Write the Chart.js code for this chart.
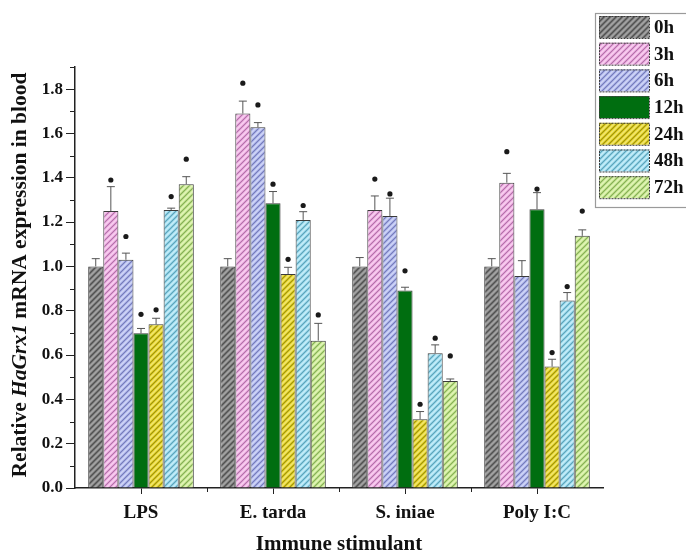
<!DOCTYPE html>
<html>
<head>
<meta charset="utf-8">
<script src="https://cdn.jsdelivr.net/npm/chart.js@4/dist/chart.umd.min.js"></script>
<style>
    html, body { margin: 0; padding: 0; background: #fff; }
    canvas { display: block; }
</style>
</head>
<body>
<canvas id="grxChart" width="686" height="559"></canvas>
<script>
// Categories and time points
const stimulants = ['LPS', 'E. tarda', 'S. iniae', 'Poly I:C'];
const timePoints = ['0h', '3h', '6h', '12h', '24h', '48h', '72h'];

// Mean relative expression per time point (LPS, E. tarda, S. iniae, Poly I:C)
const mean0h  = [1.00, 1.00, 1.00, 1.00];
const mean3h  = [1.25, 1.69, 1.255, 1.378];
const mean6h  = [1.03, 1.628, 1.228, 0.957];
const mean12h = [0.698, 1.285, 0.891, 1.258];
const mean24h = [0.739, 0.966, 0.31, 0.548];
const mean48h = [1.255, 1.21, 0.608, 0.846];
const mean72h = [1.371, 0.665, 0.483, 1.138];

// Error bar sizes (upper only)
const err0h  = [0.035, 0.035, 0.04, 0.035];
const err3h  = [0.11, 0.056, 0.063, 0.042];
const err6h  = [0.03, 0.021, 0.08, 0.069];
const err12h = [0.022, 0.053, 0.015, 0.075];
const err24h = [0.027, 0.03, 0.035, 0.033];
const err48h = [0.008, 0.037, 0.038, 0.036];
const err72h = [0.034, 0.078, 0.009, 0.027];

// Where the significance marks sit (null = no mark)
const star0h  = [null, null, null, null];
const star3h  = [1.39, 1.827, 1.394, 1.518];
const star6h  = [1.135, 1.729, 1.327, null];
const star12h = [0.784, 1.371, 0.98, 1.349];
const star24h = [0.804, 1.032, 0.378, 0.611];
const star48h = [1.315, 1.275, 0.676, 0.909];
const star72h = [1.484, 0.781, 0.596, 1.25];

// Axis ticks
const yTicks = [0, 0.2, 0.4, 0.6, 0.8, 1.0, 1.2, 1.4, 1.6, 1.8];
const yMinorTicks = [0.1, 0.3, 0.5, 0.7, 0.9, 1.1, 1.3, 1.5, 1.7, 1.9];

const means = [mean0h, mean3h, mean6h, mean12h, mean24h, mean48h, mean72h];
const errors = [err0h, err3h, err6h, err12h, err24h, err48h, err72h];
const stars = [star0h, star3h, star6h, star12h, star24h, star48h, star72h];

// base, light stripe, dark stripe, solid?
const seriesStyle = [
    ['#6f6f6f', '#a4a4a4', '#4a4a4a', false],
    ['#e49ad6', '#f8d0f0', '#a0709a', false],
    ['#9ea6e4', '#d0d6f6', '#6e74a8', false],
    ['#006e10', '#006e10', '#006e10', true],
    ['#d6c612', '#f2e670', '#8c8020', false],
    ['#86cce4', '#c6eef8', '#5a98a8', false],
    ['#b4dc7c', '#e2f4b8', '#7c9c56', false]
];

const canvas = document.getElementById('grxChart');
const mainCtx = canvas.getContext('2d');

function hatch(base, light, dark, solid) {
    const s = 6;
    const c = document.createElement('canvas');
    c.width = s;
    c.height = s;
    const g = c.getContext('2d');
    g.fillStyle = base;
    g.fillRect(0, 0, s, s);
    if (!solid) {
        g.lineCap = 'square';
        g.strokeStyle = light;
        g.lineWidth = 1.8;
        [-s, 0, s].forEach(k => {
            g.beginPath();
            g.moveTo(k, s);
            g.lineTo(k + s, 0);
            g.stroke();
        });
        g.strokeStyle = dark;
        g.lineWidth = 0.8;
        [-s, 0, s].forEach(k => {
            g.beginPath();
            g.moveTo(k + 3, s);
            g.lineTo(k + 3 + s, 0);
            g.stroke();
        });
    }
    return mainCtx.createPattern(c, 'repeat');
}

const serif = "'Liberation Serif', 'Times New Roman', serif";

// Error bars, significance marks and minor ticks
const extrasPlugin = {
    id: 'extras',
    afterDatasetsDraw(chart) {
        const ctx = chart.ctx;
        const y = chart.scales.y;
        const x = chart.scales.x;
        ctx.save();
        chart.data.datasets.forEach((ds, i) => {
            const meta = chart.getDatasetMeta(i);
            meta.data.forEach((bar, j) => {
                const top = y.getPixelForValue(means[i][j] + errors[i][j]);
                ctx.strokeStyle = '#555';
                ctx.lineWidth = 1;
                ctx.beginPath();
                ctx.moveTo(bar.x, bar.y);
                ctx.lineTo(bar.x, top);
                ctx.moveTo(bar.x - 4, top);
                ctx.lineTo(bar.x + 4, top);
                ctx.stroke();
                const sv = stars[i][j];
                if (sv !== null) {
                    ctx.fillStyle = '#1a1a1a';
                    ctx.beginPath();
                    ctx.arc(bar.x, y.getPixelForValue(sv), 2.6, 0, Math.PI * 2);
                    ctx.fill();
                }
            });
        });

        // minor ticks
        ctx.strokeStyle = '#222';
        ctx.lineWidth = 1;
        ctx.beginPath();
        yMinorTicks.forEach(v => {
            const py = Math.round(y.getPixelForValue(v)) + 0.5;
            ctx.moveTo(chart.chartArea.left - 5, py);
            ctx.lineTo(chart.chartArea.left, py);
        });
        for (let j = 0; j < stimulants.length - 1; j++) {
            const px = Math.round((x.getPixelForValue(j) + x.getPixelForValue(j + 1)) / 2) + 0.5;
            ctx.moveTo(px, chart.chartArea.bottom);
            ctx.lineTo(px, chart.chartArea.bottom + 4);
        }
        ctx.stroke();
        ctx.restore();
    },
    afterDraw(chart) {
        const ctx = chart.ctx;
        ctx.save();

        // y axis title with italic gene name
        const parts = [
            ['Relative ', 'bold'],
            ['HaGrx1', 'italic bold'],
            [' mRNA expression in blood', 'bold']
        ];
        let size = 18;
        const measure = sz => parts.reduce((w, p) => {
            ctx.font = `${p[1]} ${sz}px ${serif}`;
            return w + ctx.measureText(p[0]).width;
        }, 0);
        size = size * 405 / measure(size);
        const total = measure(size);
        ctx.translate(20, 275);
        ctx.rotate(-Math.PI / 2);
        ctx.fillStyle = '#111';
        ctx.textBaseline = 'middle';
        let cx = -total / 2;
        parts.forEach(p => {
            ctx.font = `${p[1]} ${size}px ${serif}`;
            ctx.fillText(p[0], cx, 0);
            cx += ctx.measureText(p[0]).width;
        });
        ctx.restore();

        // legend box
        ctx.save();
        const lx = 595, ly = 13, step = 26.7;
        ctx.fillStyle = '#fff';
        ctx.fillRect(lx, ly, 120, 194);
        ctx.strokeStyle = '#9a9a9a';
        ctx.lineWidth = 1.2;
        ctx.strokeRect(lx + 0.5, ly + 0.5, 120, 194);
        chart.data.datasets.forEach((ds, i) => {
            const sy = ly + 3 + i * step;
            ctx.fillStyle = ds.backgroundColor;
            ctx.fillRect(lx + 4, sy, 50, 22);
            ctx.strokeStyle = '#3a3a3a';
            ctx.lineWidth = 1;
            ctx.setLineDash([2, 1]);
            ctx.strokeRect(lx + 4.5, sy + 0.5, 50, 22);
            ctx.setLineDash([]);
            ctx.fillStyle = '#111';
            ctx.font = `bold 19px ${serif}`;
            ctx.textBaseline = 'middle';
            ctx.fillText(ds.label, lx + 59, sy + 12);
        });
        ctx.restore();
    }
};

new Chart(mainCtx, {
    type: 'bar',
    data: {
        labels: stimulants,
        datasets: timePoints.map((t, i) => ({
            label: t,
            data: means[i],
            backgroundColor: hatch(...seriesStyle[i]),
            borderColor: '#3a3a3a',
            borderWidth: 1,
            barPercentage: 1.0,
            categoryPercentage: 0.8
        }))
    },
    options: {
        responsive: false,
        animation: false,
        devicePixelRatio: 1,
        layout: { padding: { top: 67, right: 83, left: 0, bottom: 0 } },
        plugins: {
            legend: { display: false },
            tooltip: { enabled: false }
        },
        scales: {
            x: {
                grid: { display: true, drawOnChartArea: false, offset: false, tickLength: 6, color: '#222' },
                border: { color: '#222', width: 1.5 },
                ticks: { color: '#111', padding: 8, font: { family: serif, size: 19, weight: 'bold' } },
                title: {
                    display: true,
                    text: 'Immune stimulant',
                    color: '#111',
                    font: { family: serif, size: 21, weight: 'bold' },
                    padding: { top: 2, bottom: 2 }
                },
                afterFit: s => { s.height = 71; }
            },
            y: {
                min: 0,
                max: 1.9,
                afterBuildTicks: s => { s.ticks = yTicks.map(v => ({ value: v })); },
                grid: { display: true, drawOnChartArea: false, tickLength: 9, color: '#222' },
                border: { color: '#222', width: 1.5 },
                ticks: {
                    color: '#111',
                    padding: 3,
                    font: { family: serif, size: 17, weight: 'bold' },
                    callback: v => Number(v).toFixed(1)
                },
                afterFit: s => { s.width = 75; }
            }
        }
    },
    plugins: [extrasPlugin]
});
</script>
</body>
</html>
